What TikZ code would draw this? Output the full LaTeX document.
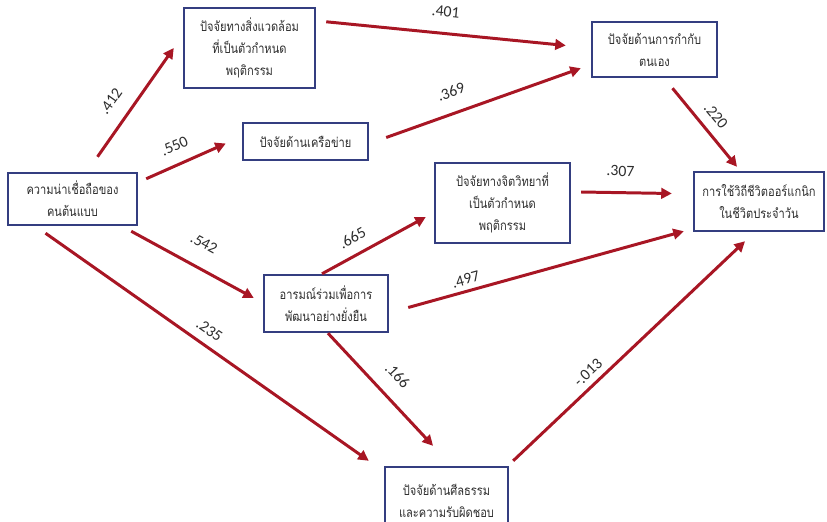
\documentclass[tikz,border=0pt]{standalone}
\usepackage{fontspec}
\newfontfamily\thaifont[Script=Thai, FakeStretch=0.83]{Loma}
\newfontfamily\numfont{Carlito}
\usepackage{tikz}
\usetikzlibrary{calc, arrows.meta}

\definecolor{boxblue}{RGB}{52,62,128}
\definecolor{arrred}{RGB}{168,22,36}
\definecolor{txtgray}{RGB}{45,45,45}

\begin{document}
\begin{tikzpicture}[x=0.02cm, y=-0.02cm,
  box/.style={draw=boxblue, line width=1.4pt, fill=white, align=center, inner sep=2pt,
    font={\thaifont\fontsize{7.6}{12.5}\selectfont}, text=txtgray},
  arr/.style={draw=arrred, line width=1.7pt, -{Triangle[length=6pt,width=6pt]}},
  lbl/.style={font={\numfont\fontsize{9}{10}\selectfont}, text=txtgray, sloped, inner sep=0pt}]
  \useasboundingbox (0,0) rectangle (827,521);

  % กล่อง
  \node[box, minimum width=2.58cm, minimum height=1.04cm] (cred) at (72.5,199) {ความน่าเชื่อถือของ\\คนต้นแบบ};
  \node[box, minimum width=2.62cm, minimum height=1.6cm] (env) at (249.5,48) {ปัจจัยทางสิ่งแวดล้อม\\ที่เป็นตัวกำหนด\\พฤติกรรม};
  \node[box, minimum width=2.5cm, minimum height=0.74cm] (net) at (305.5,141.5) {ปัจจัยด้านเครือข่าย};
  \node[box, minimum width=2.5cm, minimum height=1.1cm] (self) at (654.5,49.5) {ปัจจัยด้านการกำกับ\\ตนเอง};
  \node[box, minimum width=2.7cm, minimum height=1.6cm] (psy) at (502.5,203) {ปัจจัยทางจิตวิทยาที่\\เป็นตัวกำหนด\\พฤติกรรม};
  \node[box, minimum width=2.6cm, minimum height=1.18cm] (out) at (759,201.5) {การใช้วิถีชีวิตออร์แกนิก\\ในชีวิตประจำวัน};
  \node[box, minimum width=2.48cm, minimum height=1.14cm] (emo) at (326,303.5) {อารมณ์ร่วมเพื่อการ\\พัฒนาอย่างยั่งยืน};
  \node[box, minimum width=2.46cm, minimum height=1.36cm, text depth=0pt] (moral) at (446.5,501) {ปัจจัยด้านศีลธรรม\\และความรับผิดชอบ};

  % เส้นทาง
  \draw[arr] ([shift={(25,-15)}]cred.north) -- node[lbl, pos=.4, above=0.29cm] (w1) {.412} ([shift={(-9,0)}]env.west);
  \draw[arr] ([shift={(8,7)}]cred.north east) -- node[lbl, pos=.45, above=0.24cm] (w2) {.550} ([shift={(-16,2)}]net.west);
  \draw[arr] ([shift={(10,15)}]env.north east) -- node[lbl, pos=.49, above=0.30cm] (w3) {.401} ([shift={(-25,-4)}]self.west);
  \draw[arr] ([shift={(17,-4)}]net.east) -- node[lbl, pos=.37, above=0.29cm] (w4) {.369} ([shift={(-10,-10)}]self.south west);
  \draw[arr] ([shift={(18,10)}]self.south) -- node[lbl, pos=.48, above=0.19cm] (w5) {.220} ([shift={(-22,-4)}]out.north);
  \draw[arr] ([shift={(10,-11)}]psy.east) -- node[lbl, pos=.43, above=0.3cm] (w6) {.307} ([shift={(-21,-8)}]out.west);
  \draw[arr] ([shift={(19,4)}]emo.east) -- node[lbl, pos=.22, above=0.1cm] (w7) {.497} ([shift={(-9,-1)}]out.south west);
  \draw[arr] ([shift={(-4,0)}]emo.north) -- node[lbl, pos=.37, above=0.2cm] (w8) {.665} ([shift={(-8,14)}]psy.west);
  \draw[arr] ([shift={(-7,5)}]cred.south east) -- node[lbl, pos=.5, above=0.35cm] (w9) {.542} ([shift={(-9,-5.5)}]emo.west);
  \draw[arr] ([shift={(-27,7)}]cred.south) -- node[lbl, pos=.48, above=0.17cm] (w10) {.235} ([shift={(-15,-5)}]moral.north west);
  \draw[arr] ([shift={(2,0)}]emo.south) -- node[lbl, pos=.51, above=0.3cm] (w11) {.166} ([shift={(-13.5,-20)}]moral.north);
  \draw[arr] ([shift={(4,-5)}]moral.north east) -- node[lbl, pos=.36, above=0.12cm] (w12) {-.013} ([shift={(-14,9)}]out.south);
\end{tikzpicture}
\end{document}
